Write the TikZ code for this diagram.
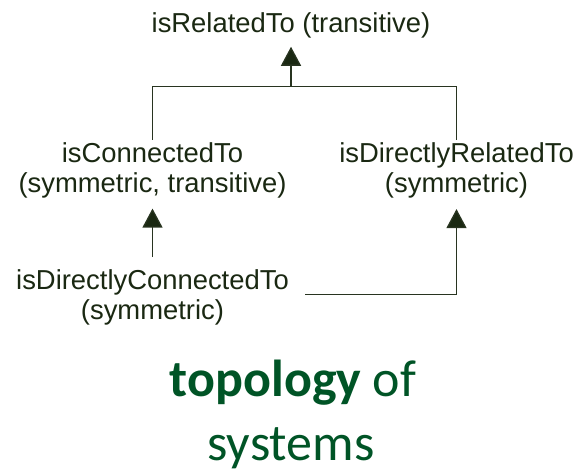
\documentclass[tikz,border=0pt]{standalone}
\usepackage{fontspec}
\setmainfont{Liberation Sans}
\newfontfamily\titlefont{Carlito}
\usetikzlibrary{arrows.meta,calc}
\definecolor{ink}{RGB}{26,40,18}
\definecolor{linecol}{RGB}{40,52,32}
\definecolor{titlegreen}{RGB}{0,84,38}
\begin{document}
\begin{tikzpicture}[x=1pt,y=1pt,
  rel/.style={inner sep=0pt, align=center, text=ink, anchor=base,
    font=\fontsize{27.4}{30.3}\selectfont},
  link/.style={draw=linecol, line width=1.3pt},
  arr/.style={link, -{Triangle[length=19pt,width=20pt,fill=ink]}},
  title/.style={inner sep=0pt, anchor=base, text=titlegreen,
    font=\titlefont\fontsize{52}{63}\selectfont}]
\useasboundingbox (0,0) rectangle (577,472);

% relation nodes (base = baseline of the last line)
\node[rel] (top)   at (291,439.7)   {isRelatedTo (transitive)};
\node[rel] (conn)  at (152.5,279.3) {isConnectedTo\\(symmetric, transitive)};
\node[rel] (drel)  at (456.5,279.3) {isDirectlyRelatedTo\\(symmetric)};
\node[rel] (dconn) at (152.5,152.5) {isDirectlyConnectedTo\\(symmetric)};

% caption
\node[title] (t1) at (293,75.3) {\textbf{topology} of};
\node[title] (t2) at (291,12)   {systems};

% junction above the two middle relations
\coordinate (jy) at (0,385.3);
\coordinate (jn) at (top.south |- jy);

\draw[link] ($(conn.north)+(0,2.5)$) |- (jn) -| ($(drel.north)+(0,2.5)$);
\draw[arr] (jn) -- ($(top.south)+(0,-8.6)$);
\draw[arr] ($(dconn.north)+(0,12)$) -- ($(conn.south)+(0,-10)$);
\draw[arr] ($(dconn.east)+(16,3)$) -| ($(drel.south)+(0,-10.5)$);
\end{tikzpicture}
\end{document}
